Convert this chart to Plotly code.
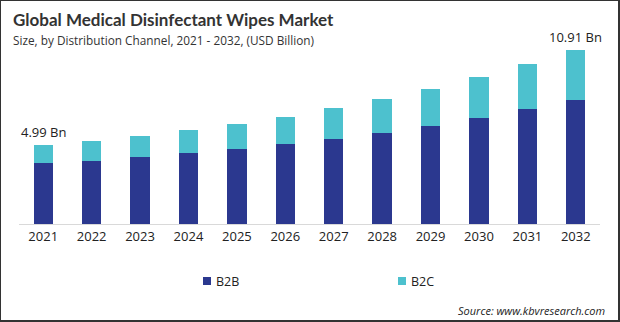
import plotly.graph_objects as go

years = ["2021", "2022", "2023", "2024", "2025", "2026",
         "2027", "2028", "2029", "2030", "2031", "2032"]
b2b = [3.85, 3.96, 4.21, 4.46, 4.71, 5.04, 5.32, 5.70, 6.14, 6.64, 7.20, 7.77]
b2c = [1.14, 1.25, 1.32, 1.44, 1.57, 1.68, 1.95, 2.13, 2.32, 2.57, 2.83, 3.14]
series_names = ["B2B", "B2C"]
series_colors = ["#2B388F", "#4DC1CE"]
labelled_years = ["2021", "2032"]

W, H = 620, 322
ML, MR, MT, MB = 19, 20, 33, 98
PW = W - ML - MR
PH = H - MT - MB

fig = go.Figure()
for name, vals, col in zip(series_names, [b2b, b2c], series_colors):
    fig.add_trace(go.Bar(x=years, y=vals, name=name, marker_color=col,
                         marker_line_width=0, showlegend=False))

# Value labels above the first and last stacks (category index on the x axis)
totals = [a + b for a, b in zip(b2b, b2c)]
for i, (yr, tot) in enumerate(zip(years, totals)):
    if yr in labelled_years:
        fig.add_annotation(x=i, y=tot, text=f"{tot:.2f} Bn", showarrow=False,
                           yanchor="bottom", yshift=2,
                           font=dict(family="Open Sans", size=13, color="#222222"))

def px_x(p):
    return (p - ML) / PW

def px_y(p):
    return 1 - (p - MT) / PH

# Legend drawn as colored squares with labels
legend_x = [203, 398]
for name, col, lx in zip(series_names, series_colors, legend_x):
    fig.add_shape(type="rect", xref="paper", yref="paper",
                  x0=px_x(lx), x1=px_x(lx + 8), y0=px_y(285), y1=px_y(277),
                  fillcolor=col, line_width=0)
    fig.add_annotation(xref="paper", yref="paper", x=px_x(lx + 11), y=px_y(281),
                       text=name, showarrow=False, xanchor="left", yanchor="middle",
                       font=dict(family="Open Sans", size=12.5, color="#222222"))

fig.add_annotation(xref="paper", yref="paper", x=px_x(607), y=px_y(310),
                   text="<i>Source: www.kbvresearch.com</i>", showarrow=False,
                   xanchor="right", yanchor="middle",
                   font=dict(family="Open Sans", size=11, color="#222222"))

fig.add_annotation(xref="paper", yref="paper", x=px_x(11), y=px_y(20),
                   text="<b>Global Medical Disinfectant Wipes Market</b>", showarrow=False,
                   xanchor="left", yanchor="middle",
                   font=dict(family="Lato", size=17, color="#333333"))
fig.add_annotation(xref="paper", yref="paper", x=px_x(11), y=px_y(40),
                   text="Size, by Distribution Channel, 2021 - 2032, (USD Billion)",
                   showarrow=False, xanchor="left", yanchor="middle",
                   font=dict(family="Open Sans", size=11.8, color="#333333"))

# Frame around the whole image
fig.add_shape(type="line", xref="paper", yref="paper",
              x0=px_x(0.5), x1=px_x(0.5), y0=px_y(0), y1=px_y(322),
              line=dict(color="#333333", width=1))
fig.add_shape(type="line", xref="paper", yref="paper",
              x0=px_x(0), x1=px_x(620), y0=px_y(0.5), y1=px_y(0.5),
              line=dict(color="#333333", width=1))
fig.add_shape(type="line", xref="paper", yref="paper",
              x0=px_x(619), x1=px_x(619), y0=px_y(0), y1=px_y(322),
              line=dict(color="#333333", width=2))
fig.add_shape(type="line", xref="paper", yref="paper",
              x0=px_x(0), x1=px_x(620), y0=px_y(321), y1=px_y(321),
              line=dict(color="#333333", width=2))

fig.update_layout(
    width=W, height=H, barmode="stack", bargap=0.6,
    margin=dict(l=ML, r=MR, t=MT, b=MB),
    paper_bgcolor="white", plot_bgcolor="white",
    xaxis=dict(type="category", range=[-0.5, len(years) - 0.5],
               showline=True, linecolor="#d9d9d9", linewidth=1,
               ticks="", tickfont=dict(family="Open Sans", size=13, color="#222222"),
               showgrid=False),
    yaxis=dict(visible=False, range=[0, 12], showgrid=False),
)

fig.write_html("out.html", config={"displayModeBar": False})
